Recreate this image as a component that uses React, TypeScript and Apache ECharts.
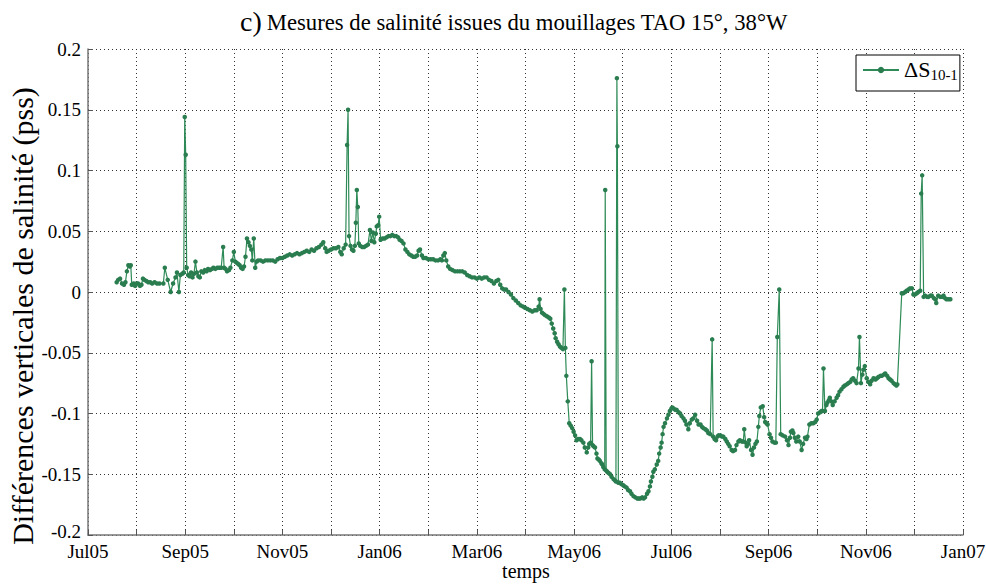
import React, { useEffect, useRef } from "react";
import * as echarts from "echarts";

// x positions in months since 1 Jul 2005 (tick 0 = Jul05, tick 18 = Jan07)
const tickLabels = ["Jul05", "Sep05", "Nov05", "Jan06", "Mar06", "May06", "Jul06", "Sep06", "Nov06", "Jan07"];

const monthsA = [0.59,0.62,0.66,0.70,0.74,0.77,0.80,0.83,0.86,0.88,0.90,0.94,0.97,1.00,1.03,1.07,1.10,1.13,1.16,1.20,1.24,1.28,1.32,1.37,1.42,1.47,1.55,1.58,1.64,1.70,1.75,1.80,1.83,1.87,1.90,1.94,1.97,1.99,2.01,2.03,2.06,2.09,2.12,2.15,2.18,2.21,2.24,2.27,2.30,2.33,2.37,2.40,2.44,2.47,2.51,2.55,2.58,2.62,2.66,2.70,2.74,2.78,2.80,2.83,2.86,2.90,2.93,2.97,3.00,3.03,3.06,3.09,3.12,3.15,3.18,3.21,3.24,3.27,3.30,3.33,3.36,3.38,3.41,3.44,3.47,3.50,3.55,3.60,3.65,3.70,3.75,3.80,3.85,3.90,3.95,4.00,4.05,4.10,4.15,4.20,4.25,4.30,4.35,4.40,4.45,4.50,4.55,4.60,4.65,4.70,4.75,4.80,4.84,4.88,4.91,4.95,5.00,5.05,5.10,5.15,5.19,5.22,5.26,5.30,5.33,5.35,5.37,5.40,5.43,5.46,5.49,5.51,5.53,5.55,5.57,5.60,5.64,5.68,5.72,5.76,5.80,5.83,5.86,5.89,5.92,5.94,5.97,5.99,6.02,6.06,6.10,6.14,6.18,6.22,6.26,6.30,6.34,6.38,6.41,6.45,6.49,6.53,6.57,6.61,6.65,6.69,6.73,6.77,6.80,6.83,6.87,6.90,6.95,7.00,7.05,7.10,7.15,7.20,7.25,7.28,7.31,7.34,7.37,7.41,7.45,7.50,7.55,7.60,7.65,7.70,7.75,7.80,7.85,7.90,7.95,8.00,8.05,8.10,8.15,8.20,8.25,8.30,8.35,8.40,8.44,8.48,8.52,8.56,8.60,8.65,8.70,8.75,8.80,8.85,8.90,8.95,8.99];
const valuesA = [0.008,0.010,0.011,0.007,0.006,0.008,0.017,0.022,0.021,0.022,0.006,0.007,0.005,0.007,0.007,0.005,0.006,0.011,0.010,0.009,0.008,0.008,0.007,0.008,0.007,0.007,0.007,0.020,0.010,0.000,0.007,0.012,0.016,0.000,0.014,0.015,0.016,0.144,0.113,0.020,0.014,0.013,0.016,0.012,0.015,0.025,0.016,0.013,0.012,0.017,0.016,0.018,0.017,0.019,0.018,0.019,0.020,0.019,0.020,0.020,0.020,0.037,0.020,0.019,0.017,0.018,0.020,0.026,0.033,0.025,0.024,0.023,0.022,0.020,0.019,0.021,0.029,0.044,0.041,0.038,0.035,0.026,0.044,0.020,0.025,0.026,0.026,0.025,0.026,0.026,0.026,0.026,0.025,0.027,0.028,0.028,0.029,0.030,0.031,0.030,0.031,0.032,0.031,0.032,0.033,0.034,0.033,0.035,0.034,0.036,0.037,0.039,0.041,0.036,0.033,0.034,0.035,0.036,0.036,0.037,0.033,0.031,0.036,0.039,0.121,0.150,0.046,0.038,0.035,0.034,0.038,0.057,0.084,0.070,0.040,0.038,0.037,0.037,0.038,0.039,0.051,0.042,0.049,0.041,0.048,0.054,0.055,0.062,0.043,0.044,0.044,0.045,0.046,0.046,0.047,0.046,0.046,0.045,0.043,0.042,0.040,0.035,0.033,0.031,0.030,0.029,0.029,0.030,0.034,0.035,0.030,0.028,0.028,0.027,0.027,0.027,0.026,0.026,0.027,0.026,0.030,0.032,0.026,0.021,0.019,0.018,0.017,0.017,0.017,0.017,0.016,0.014,0.013,0.012,0.012,0.011,0.012,0.011,0.012,0.012,0.010,0.009,0.007,0.009,0.010,0.006,0.003,0.002,0.002,0.000,-0.002,-0.005,-0.007,-0.009,-0.011,-0.012,-0.013];

const monthsB = [9.04,9.09,9.14,9.19,9.23,9.27,9.29,9.31,9.34,9.37,9.40,9.44,9.48,9.51,9.54,9.57,9.60,9.62,9.65,9.68,9.71,9.74,9.77,9.80,9.82,9.84,9.87,9.90,9.93,9.96,9.99,10.02,10.05,10.08,10.12,10.15,10.19,10.22,10.26,10.29,10.31,10.34,10.36,10.38,10.40,10.43,10.46,10.48,10.51,10.53,10.56,10.58,10.60,10.63,10.64,10.66,10.68,10.71,10.74,10.77,10.81,10.84,10.86,10.88,10.89,10.91,10.94,10.97,11.01,11.04,11.08,11.11,11.15,11.18,11.22,11.26,11.30,11.33,11.36,11.40,11.43,11.46,11.50,11.53,11.56,11.58,11.61,11.63,11.66,11.70,11.73,11.75,11.78,11.80,11.82,11.84,11.87,11.91,11.94,11.97,12.00,12.02,12.05,12.08,12.11,12.15,12.18,12.21,12.25,12.28,12.31,12.35,12.38,12.42,12.45,12.49,12.53,12.56,12.60,12.63,12.66,12.70,12.73,12.76,12.80,12.84,12.86,12.89,12.92,12.95,12.97];
const valuesB = [-0.014,-0.015,-0.016,-0.015,-0.015,-0.012,-0.006,-0.014,-0.017,-0.018,-0.019,-0.020,-0.021,-0.022,-0.026,-0.030,-0.034,-0.038,-0.041,-0.043,-0.045,-0.046,-0.047,0.002,-0.046,-0.069,-0.090,-0.108,-0.110,-0.112,-0.115,-0.118,-0.122,-0.121,-0.121,-0.122,-0.124,-0.128,-0.132,-0.128,-0.125,-0.124,-0.057,-0.126,-0.127,-0.128,-0.133,-0.137,-0.138,-0.139,-0.141,-0.142,-0.144,-0.146,0.084,-0.147,-0.148,-0.149,-0.150,-0.152,-0.154,-0.155,-0.156,0.176,0.120,-0.157,-0.157,-0.158,-0.159,-0.160,-0.161,-0.163,-0.164,-0.166,-0.168,-0.169,-0.170,-0.170,-0.170,-0.169,-0.170,-0.169,-0.166,-0.164,-0.160,-0.156,-0.152,-0.148,-0.146,-0.142,-0.139,-0.133,-0.128,-0.124,-0.117,-0.111,-0.108,-0.104,-0.101,-0.098,-0.096,-0.095,-0.096,-0.097,-0.097,-0.099,-0.100,-0.102,-0.104,-0.106,-0.109,-0.113,-0.108,-0.105,-0.104,-0.101,-0.106,-0.109,-0.109,-0.111,-0.112,-0.113,-0.114,-0.116,-0.117,-0.039,-0.119,-0.121,-0.122,-0.119,-0.118];

const monthsC = [13.01,13.04,13.07,13.11,13.14,13.17,13.20,13.24,13.27,13.31,13.34,13.38,13.41,13.45,13.48,13.50,13.53,13.55,13.58,13.60,13.64,13.67,13.70,13.73,13.76,13.79,13.81,13.84,13.88,13.91,13.93,13.96,13.98,14.02,14.05,14.08,14.12,14.15,14.18,14.22,14.25,14.29,14.34,14.38,14.41,14.44,14.46,14.49,14.51,14.54,14.57,14.61,14.64,14.68,14.71,14.75,14.78,14.80,14.84,14.88,14.92,14.96,14.99,15.02,15.06,15.09,15.11,15.13,15.16,15.19,15.21,15.24,15.26,15.29,15.32,15.36,15.40,15.43,15.46,15.50,15.54,15.57,15.61,15.64,15.68,15.71,15.74,15.78,15.81,15.85,15.87,15.90,15.93,15.95,15.98,16.02,16.05,16.09,16.12,16.16,16.20,16.23,16.26,16.30,16.33,16.37,16.40,16.44,16.47,16.50,16.53,16.57,16.60,16.63,16.65,16.74,16.77,16.81,16.84,16.88,16.91,16.95,16.98,17.01,17.05,17.08,17.12,17.14,17.16,17.19,17.22,17.26,17.29,17.33,17.36,17.40,17.43,17.45,17.49,17.53,17.57,17.60,17.63,17.66,17.70,17.74];
const valuesC = [-0.118,-0.119,-0.119,-0.121,-0.123,-0.125,-0.127,-0.130,-0.131,-0.130,-0.126,-0.123,-0.122,-0.123,-0.123,-0.113,-0.124,-0.127,-0.125,-0.122,-0.130,-0.134,-0.128,-0.125,-0.123,-0.111,-0.102,-0.095,-0.094,-0.103,-0.107,-0.108,-0.109,-0.117,-0.120,-0.123,-0.124,-0.124,-0.037,0.002,-0.117,-0.118,-0.119,-0.122,-0.126,-0.120,-0.115,-0.114,-0.116,-0.120,-0.123,-0.119,-0.123,-0.130,-0.125,-0.120,-0.121,-0.119,-0.109,-0.108,-0.108,-0.107,-0.105,-0.100,-0.099,-0.098,-0.098,-0.063,-0.098,-0.093,-0.091,-0.089,-0.087,-0.090,-0.093,-0.090,-0.087,-0.085,-0.082,-0.080,-0.078,-0.077,-0.076,-0.075,-0.074,-0.072,-0.071,-0.073,-0.075,-0.063,-0.037,-0.075,-0.068,-0.064,-0.061,-0.071,-0.074,-0.076,-0.073,-0.071,-0.072,-0.071,-0.070,-0.069,-0.069,-0.068,-0.067,-0.069,-0.071,-0.072,-0.073,-0.075,-0.076,-0.077,-0.076,-0.001,-0.001,0.000,0.001,0.002,0.003,0.003,-0.002,-0.002,-0.001,0.000,0.001,0.081,0.096,-0.004,-0.003,-0.004,-0.004,-0.003,-0.003,-0.005,-0.006,-0.009,-0.003,-0.004,-0.004,-0.003,-0.005,-0.006,-0.006,-0.006];

const months = [...monthsA, ...monthsB, ...monthsC];
const deltaS = [...valuesA, ...valuesB, ...valuesC];

const SERIF = "'Liberation Serif', 'Times New Roman', serif";
const GREEN = "#2e8b57";

export default function App() {
  const ref = useRef<HTMLDivElement>(null);
  useEffect(() => {
    document.body.style.margin = "0";
    if (!ref.current) return;
    const chart = echarts.init(ref.current, undefined, { renderer: "svg" });
    const data = months.map((m, i) => [m, deltaS[i]]);
    chart.setOption({
      animation: false,
      backgroundColor: "#fff",
      title: {
        text: "{c|c)} {t|Mesures de salinité issues du mouillages TAO 15°, 38°W}",
        left: 235,
        top: 2,
        textStyle: {
          fontWeight: "normal",
          rich: {
            c: { fontFamily: SERIF, fontSize: 28, fontWeight: "normal", color: "#000" },
            t: { fontFamily: SERIF, fontSize: 22.7, fontWeight: "normal", color: "#000", padding: [3, 0, 0, 0] },
          },
        },
      },
      legend: {
        left: 856,
        top: 55,
        orient: "horizontal",
        backgroundColor: "#fff",
        borderColor: "#000",
        borderWidth: 1,
        borderRadius: 0,
        padding: [3, 2, 3, 6],
        itemWidth: 36,
        itemHeight: 8,
        itemGap: 4,
        formatter: () => "{a|ΔS}{b|10-1}",
        textStyle: {
          rich: {
            a: { fontFamily: SERIF, fontSize: 22, color: "#000", lineHeight: 24, padding: [0, 0, 8, 0], verticalAlign: "top" },
            b: { fontFamily: SERIF, fontSize: 15, color: "#000", lineHeight: 16, verticalAlign: "bottom" },
          },
        },
        data: ["dS"],
      },
      grid: { left: 88, right: 23, top: 49, bottom: 49, containLabel: false, outerBoundsMode: "none" },
      graphic: [
        {
          type: "text",
          x: 22,
          y: 316,
          rotation: Math.PI / 2,
          style: {
            text: "Différences verticales de salinité (pss)",
            fontFamily: SERIF,
            fontSize: 30,
            fill: "#000",
            align: "center",
            verticalAlign: "middle",
          },
        },
        {
          type: "text",
          x: 526,
          y: 571,
          style: {
            text: "temps",
            fontFamily: SERIF,
            fontSize: 20,
            fill: "#000",
            align: "center",
            verticalAlign: "middle",
          },
        },
      ],
      xAxis: {
        type: "value",
        min: 0,
        max: 18,
        interval: 1,
        axisLine: { show: true, onZero: false, lineStyle: { color: "#777", width: 1.5 } },
        axisTick: { show: true, inside: true, length: 5, lineStyle: { color: "#555" } },
        axisLabel: {
          fontFamily: SERIF,
          fontSize: 19,
          color: "#000",
          margin: 8,
          lineHeight: 16,
          formatter: (v: number) => (Math.round(v) % 2 === 0 ? tickLabels[Math.round(v) / 2] : ""),
        },
        splitLine: { show: true, lineStyle: { color: "#333", width: 1, type: [1, 3] } },
      },
      yAxis: {
        type: "value",
        min: -0.2,
        max: 0.2,
        interval: 0.05,
        axisLine: { show: true, onZero: false, lineStyle: { color: "#777", width: 1.5 } },
        axisTick: { show: true, inside: true, length: 5, lineStyle: { color: "#555" } },
        axisLabel: {
          fontFamily: SERIF,
          fontSize: 19,
          color: "#000",
          margin: 7,
          lineHeight: 16,
          formatter: (v: number) => (v <= -0.2 + 1e-9 ? "{m|" + String(v) + "}" : String(v)),
          rich: { m: { fontFamily: SERIF, fontSize: 19, color: "#000", lineHeight: 16, padding: [0, 0, 8, 0] } },
        },
        splitLine: { show: true, lineStyle: { color: "#333", width: 1, type: [1, 3] } },
      },
      series: [
        {
          name: "dS",
          type: "line",
          data,
          showSymbol: true,
          symbol: "circle",
          symbolSize: 4.5,
          lineStyle: { color: GREEN, width: 1.2 },
          itemStyle: { color: "#2a7d4f" },
          emphasis: { disabled: true },
        },
      ],
    });
    return () => chart.dispose();
  }, []);
  return <div ref={ref} style={{ position: "absolute", left: 0, top: 0, width: 986, height: 584 }} />;
}
